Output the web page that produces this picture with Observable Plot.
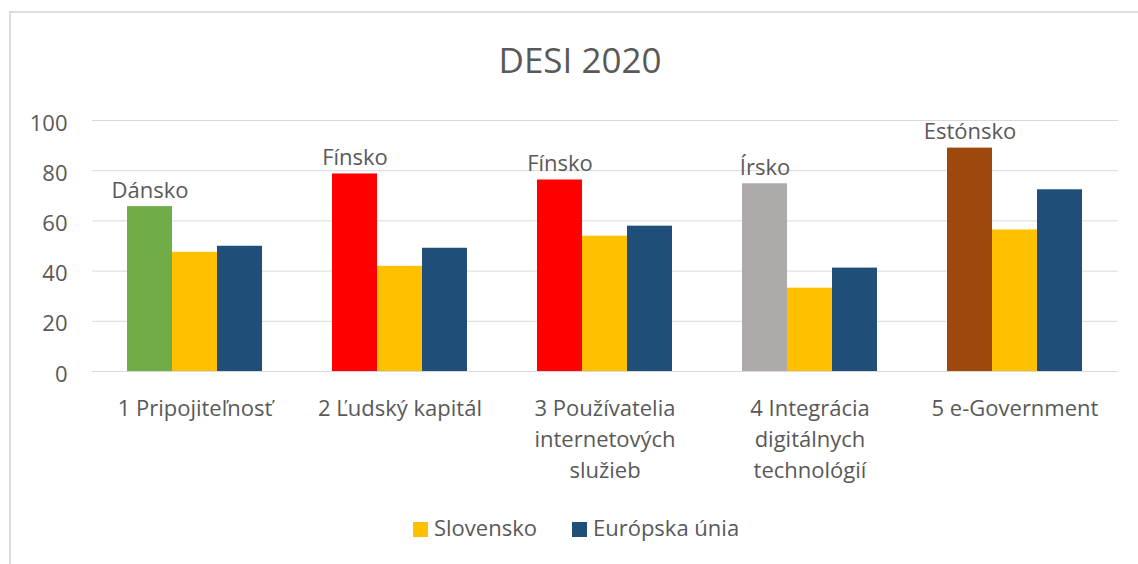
<!DOCTYPE html>
<html>
<head>
<meta charset="utf-8">
<script src="https://cdn.jsdelivr.net/npm/d3@7"></script>
<script src="https://cdn.jsdelivr.net/npm/@observablehq/plot@0.6"></script>
<style>
  html, body { margin: 0; padding: 0; background: #fff; }
  body { width: 1138px; height: 564px; position: relative; overflow: hidden; font-family: "Open Sans", "Noto Sans", sans-serif; color: #595959; }
  #frame { position: absolute; left: 9px; top: 11px; width: 1200px; height: 600px; border-left: 2px solid #dcdcdc; border-top: 2px solid #dcdcdc; }
  #title { position: absolute; left: 0; top: 42px; width: 1160px; text-align: center; font-size: 35px; line-height: 35px; color: #595959; }
  #grid, #chart { position: absolute; left: 0; top: 90px; }
  #legend { position: absolute; left: 413px; top: 516px; display: flex; align-items: center; font-size: 22px; line-height: 22px; color: #595959; }
  .sw { width: 15px; height: 15px; display: inline-block; margin-right: 6px; margin-top: 4px; }
  .item { display: flex; align-items: center; }
</style>
</head>
<body>
<div id="frame"></div>
<div id="title">DESI 2020</div>
<div id="grid"></div>
<div id="chart"></div>
<div id="legend"></div>
<script>
// Data
const categories = [
  "1 Pripojiteľnosť",
  "2 Ľudský kapitál",
  "3 Používatelia\ninternetových\nslužieb",
  "4 Integrácia\ndigitálnych\ntechnológií",
  "5 e-Government"
];
const leaders = ["Dánsko", "Fínsko", "Fínsko", "Írsko", "Estónsko"];
const leaderValues = [65.7, 78.7, 76.3, 74.8, 89.0];
const leaderColors = ["#70AD47", "#FF0000", "#FF0000", "#AEAAAA", "#9E480E"];
const slovensko = [47.5, 41.9, 53.9, 33.2, 56.4];
const eu = [49.9, 49.1, 57.9, 41.2, 72.4];
const seriesNames = ["Slovensko", "Európska únia"];
const seriesColors = ["#FFC000", "#1F4E79"];
const yTicks = [0, 20, 40, 60, 80, 100];

const rows = [];
categories.forEach((c, i) => {
  rows.push({cat: c, series: "leader", value: leaderValues[i], fill: leaderColors[i], label: leaders[i]});
  rows.push({cat: c, series: seriesNames[0], value: slovensko[i], fill: seriesColors[0], label: ""});
  rows.push({cat: c, series: seriesNames[1], value: eu[i], fill: seriesColors[1], label: ""});
});
const leaderRows = rows.filter(d => d.series === "leader");

const common = {
  width: 1138,
  height: 400,
  marginLeft: 92,
  marginRight: 20,
  marginTop: 30,
  marginBottom: 119,
  style: {fontFamily: "'Open Sans', 'Noto Sans', sans-serif", fontSize: "22px", color: "#595959", background: "transparent"},
  y: {domain: [0, 100], axis: null, label: null}
};

// Background layer: full-width gridlines and y axis
const grid = Plot.plot({
  ...common,
  marks: [
    Plot.ruleY(yTicks, {stroke: "#d9d9d9", strokeWidth: 1}),
    Plot.axisY({ticks: yTicks, tickSize: 0, tickPadding: 25, label: null, fill: "#595959", fontSize: 22, dy: 3})
  ]
});
document.getElementById("grid").appendChild(grid);

// Foreground layer: grouped bars, faceted by category
const chart = Plot.plot({
  ...common,
  fx: {domain: categories, paddingInner: 0.34, paddingOuter: 0.17, axis: null, label: null},
  x: {domain: ["leader", ...seriesNames], padding: 0, axis: null, label: null},
  color: {type: "identity"},
  marks: [
    Plot.barY(rows, {fx: "cat", x: "series", y: "value", fill: "fill"}),
    Plot.text(leaderRows, {fx: "cat", x: "series", y: "value", text: "label", lineAnchor: "bottom", dy: -9, fill: "#595959", fontSize: 22}),
    Plot.text(categories, {fx: d => d, text: d => d, frameAnchor: "bottom", lineAnchor: "top", dy: 22, lineHeight: 1.41, fill: "#595959", fontSize: 22})
  ]
});
document.getElementById("chart").appendChild(chart);

const legend = document.getElementById("legend");
seriesNames.forEach((name, i) => {
  const item = document.createElement("div");
  item.className = "item";
  if (i > 0) item.style.marginLeft = "35px";
  const sw = document.createElement("span");
  sw.className = "sw";
  sw.style.background = seriesColors[i];
  const t = document.createElement("span");
  t.textContent = name;
  item.appendChild(sw);
  item.appendChild(t);
  legend.appendChild(item);
});
</script>
</body>
</html>
